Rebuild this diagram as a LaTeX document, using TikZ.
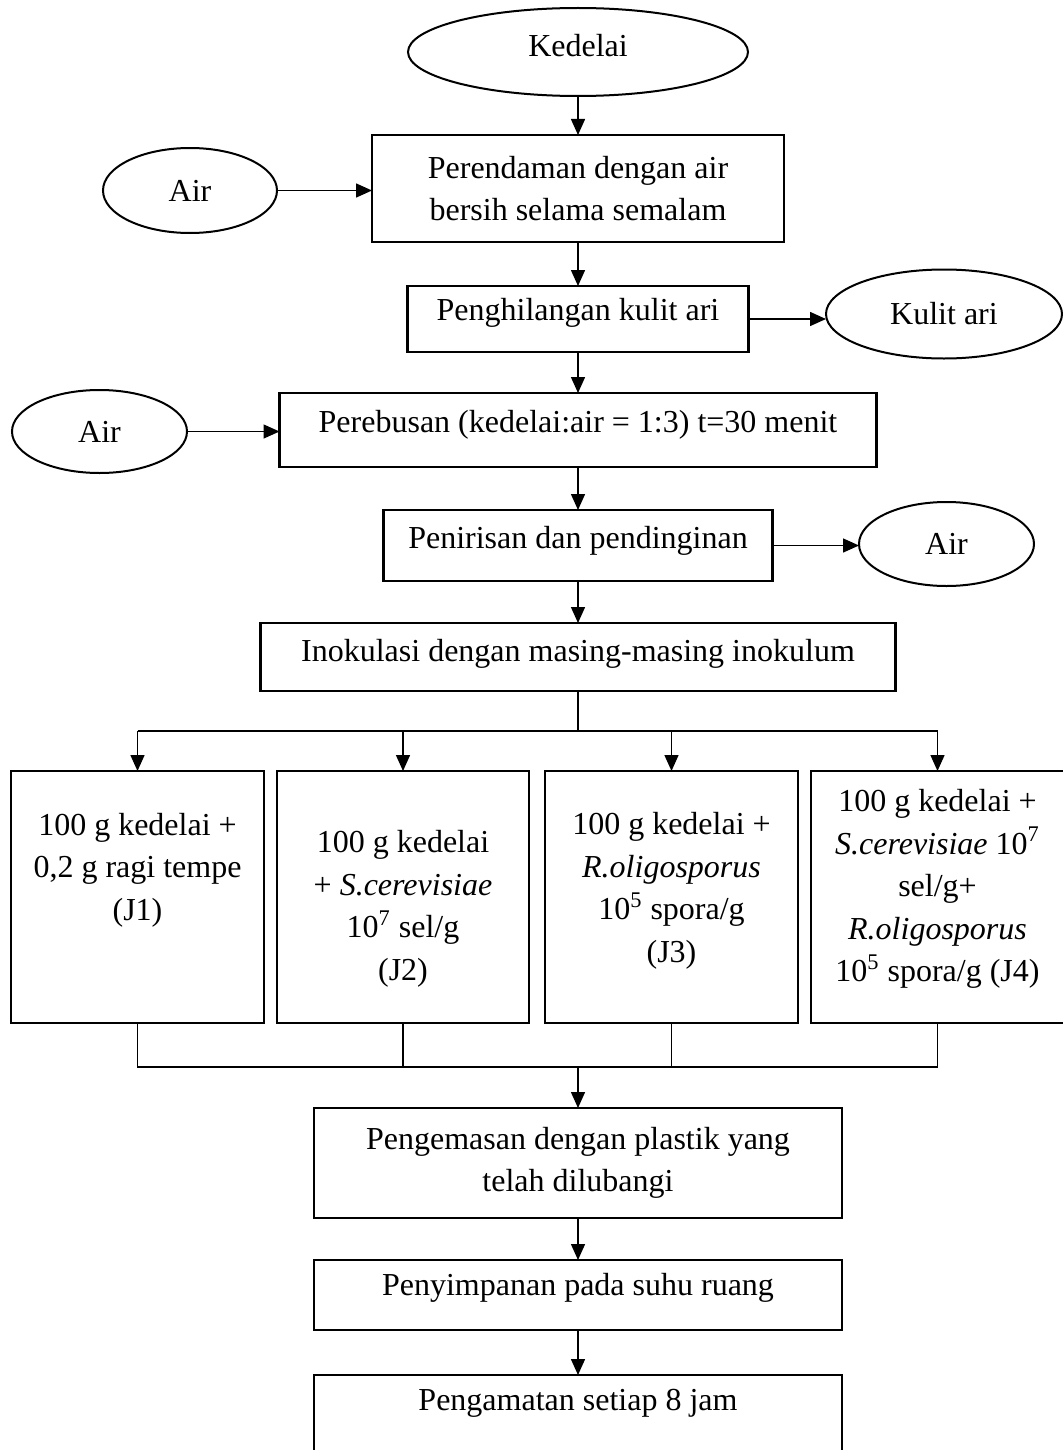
\documentclass[tikz,border=0pt]{standalone}
\usepackage{fontspec}
\setmainfont{Liberation Serif}
\usetikzlibrary{shapes.geometric,arrows.meta}

\begin{document}
\begin{tikzpicture}[x=0.5pt,y=-0.5pt,
    every node/.style={font=\fontsize{16}{21.25}\selectfont, inner sep=0pt, outer sep=0pt},
    box/.style={draw, line width=1.2pt, align=center},
    oval/.style={draw, ellipse, line width=1pt},
    txt/.style={align=center},
    lift/.style={text depth=#1},
    arr/.style={line width=0.75pt, -{Triangle[length=8pt,width=7pt]}},
    ln/.style={line width=0.75pt}]
    \useasboundingbox (0,0) rectangle (1062,1450);

    % main column
    \node[oval, minimum width=170pt, minimum height=44pt, lift=7pt] (kedelai) at (578,52) {Kedelai};
    \node[box, minimum width=206pt, minimum height=53.5pt] (rendam) at (578,188.5) {Perendaman dengan air\\bersih selama semalam};
    \node[box, minimum width=170.5pt, minimum height=33pt, lift=9.5pt] (kulit) at (578,319) {Penghilangan kulit ari};
    \node[box, minimum width=298.5pt, minimum height=37pt, lift=8.5pt] (rebus) at (578,430) {Perebusan (kedelai:air = 1:3) t=30 menit};
    \node[box, minimum width=194.5pt, minimum height=35.5pt, lift=8pt] (tiris) at (578,545.5) {Penirisan dan pendinginan};
    \node[box, minimum width=317.5pt, minimum height=34pt, lift=6.5pt] (inokulasi) at (578,657) {Inokulasi dengan masing-masing inokulum};

    % side inputs and outputs
    \node[oval, minimum width=87pt, minimum height=42.5pt] (air1) at (190,190.5) {Air};
    \node[oval, minimum width=118pt, minimum height=44.5pt] (kulitari) at (944,314) {Kulit ari};
    \node[oval, minimum width=87.5pt, minimum height=41.5pt] (air2) at (99.5,431.5) {Air};
    \node[oval, minimum width=87.5pt, minimum height=42pt] (air3) at (946.5,544) {Air};

    % treatments
    \node[box, minimum width=126.5pt, minimum height=126pt] (j1) at (137.5,897) {};
    \node[box, minimum width=126pt, minimum height=126pt] (j2) at (403,897) {};
    \node[box, minimum width=126.5pt, minimum height=126pt] (j3) at (671.5,897) {};
    \node[box, minimum width=126.5pt, minimum height=126pt] (j4) at (937.5,897) {};
    \node[txt] (j1t) at (137.5,870) {100 g kedelai +\\0,2 g ragi tempe\\(J1)};
    \node[txt] (j2t) at (403,909) {100 g kedelai\\+ \textit{S.cerevisiae}\\10\textsuperscript{7} sel/g\\(J2)};
    \node[txt] (j3t) at (671.5,891) {100 g kedelai +\\\textit{R.oligosporus}\\10\textsuperscript{5} spora/g\\(J3)};
    \node[txt] (j4t) at (937.5,889) {100 g kedelai +\\\textit{S.cerevisiae} 10\textsuperscript{7}\\sel/g+\\\textit{R.oligosporus}\\10\textsuperscript{5} spora/g (J4)};

    % after fermentation
    \node[box, minimum width=264pt, minimum height=55pt] (kemas) at (578,1163) {Pengemasan dengan plastik yang\\telah dilubangi};
    \node[box, minimum width=264pt, minimum height=35pt, lift=10.5pt] (simpan) at (578,1295) {Penyimpanan pada suhu ruang};
    \node[box, minimum width=264pt, minimum height=42pt, lift=17.5pt] (amat) at (578,1417) {Pengamatan setiap 8 jam};

    \coordinate (split) at (578,731);
    \coordinate (merge) at (578,1067);

    \draw[arr] (kedelai) -- (rendam);
    \draw[arr] (rendam) -- (kulit);
    \draw[arr] (kulit) -- (rebus);
    \draw[arr] (rebus) -- (tiris);
    \draw[arr] (tiris) -- (inokulasi);
    \draw[arr] (air1) -- (air1 -| rendam.west);
    \draw[arr] (kulit) -- (kulit -| kulitari.west);
    \draw[arr] (air2) -- (air2 -| rebus.west);
    \draw[arr] (tiris) -- (tiris -| air3.west);

    \draw[ln] (inokulasi) -- (split);
    \draw[ln] (split -| j1) -- (split -| j4);
    \draw[arr] (split -| j1) -- (j1);
    \draw[arr] (split -| j2) -- (j2);
    \draw[arr] (split -| j3) -- (j3);
    \draw[arr] (split -| j4) -- (j4);

    \draw[ln] (j1.south) |- (merge) -| (j4.south);
    \draw[ln] (j2.south) -- (j2 |- merge);
    \draw[ln] (j3.south) -- (j3 |- merge);
    \draw[arr] (merge) -- (kemas);
    \draw[arr] (kemas) -- (simpan);
    \draw[arr] (simpan) -- (amat);
\end{tikzpicture}
\end{document}
